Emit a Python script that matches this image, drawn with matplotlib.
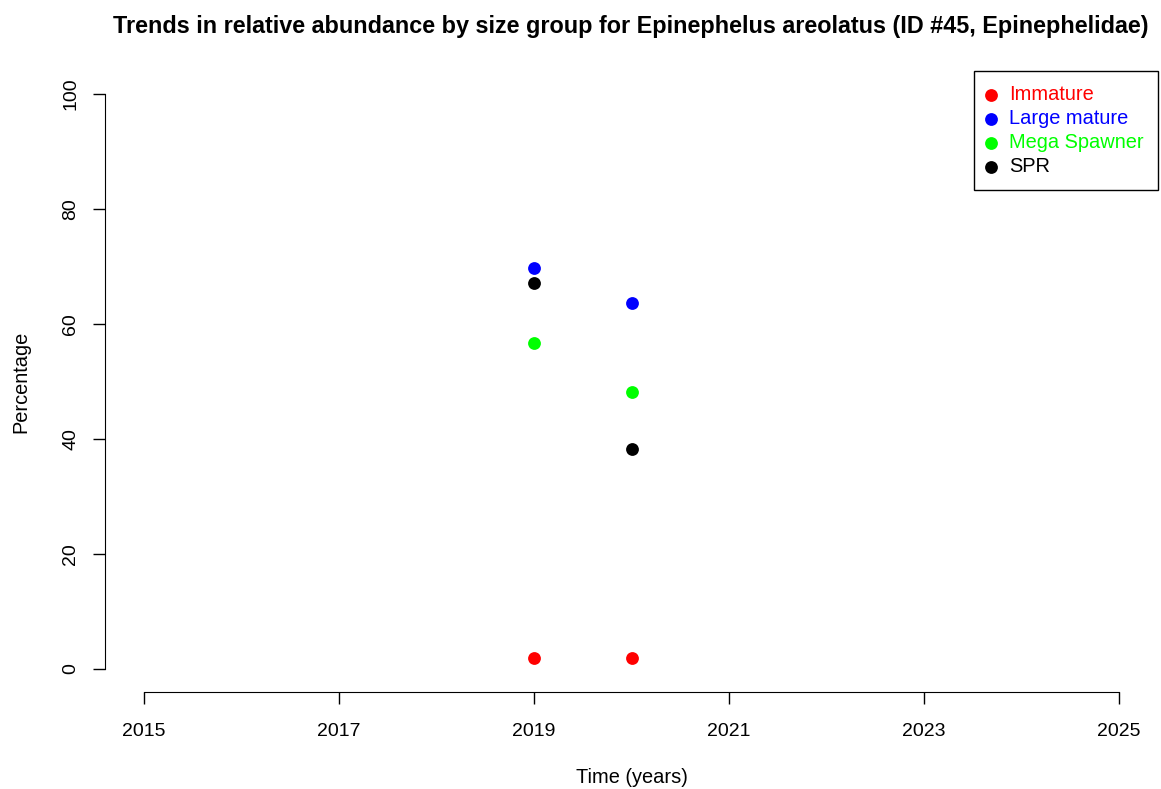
import matplotlib
matplotlib.use("Agg")
import matplotlib.pyplot as plt

plt.rcParams['font.family'] = ['Liberation Sans', 'DejaVu Sans']

years = [2019, 2020]
immature = [1.9, 1.9]
large_mature = [69.7, 63.7]
mega_spawner = [56.7, 48.2]
spr = [67.2, 38.3]

series = [
    ("Immature", immature, "#ff0000"),
    ("Large mature", large_mature, "#0000ff"),
    ("Mega Spawner", mega_spawner, "#00ff00"),
    ("SPR", spr, "#000000"),
]

xticks = [2015, 2017, 2019, 2021, 2023, 2025]
yticks = [0, 20, 40, 60, 80, 100]

fig = plt.figure(figsize=(11.61, 7.89), dpi=100)
ax = fig.add_axes([105 / 1161, 1 - 692 / 789, (1158 - 105) / 1161, (692 - 71) / 789])

for name, vals, col in series:
    ax.scatter(years, vals, s=85, color=col, label=name, zorder=3, linewidths=0)

ax.set_xlim(2014.6, 2025.4)
ax.set_ylim(-4, 104)
ax.set_xticks(xticks)
ax.set_yticks(yticks)

for s in ['top', 'right']:
    ax.spines[s].set_visible(False)
ax.spines['left'].set_bounds(0, 100)
ax.spines['bottom'].set_bounds(2015, 2025)
ax.tick_params(direction='out', length=8.6, width=1, labelsize=14)
ax.tick_params(axis='x', pad=14)
ax.tick_params(axis='y', pad=10, labelrotation=90)
for lab in ax.get_yticklabels():
    lab.set_va('center')

ax.set_xlabel("Time (years)", fontsize=14.4, labelpad=20)
ax.set_ylabel("Percentage", fontsize=14.4, labelpad=23)

fig.text(631 / 1161, 1 - 27 / 789, "Trends in relative abundance by size group for Epinephelus areolatus (ID #45, Epinephelidae)",
         ha='center', va='center', fontsize=16.8, fontweight='bold')

leg = ax.legend(loc='upper right', bbox_to_anchor=(1.0, 1.0), borderaxespad=0, fancybox=False,
                edgecolor='black', fontsize=14.4, handlelength=0.3, handletextpad=0.75,
                labelspacing=0.25, borderpad=0.7, scatterpoints=1, framealpha=1)
leg.get_frame().set_linewidth(1)
for txt, (_, _, col) in zip(leg.get_texts(), series):
    txt.set_color(col)

fig.savefig("out.png", dpi=100)
